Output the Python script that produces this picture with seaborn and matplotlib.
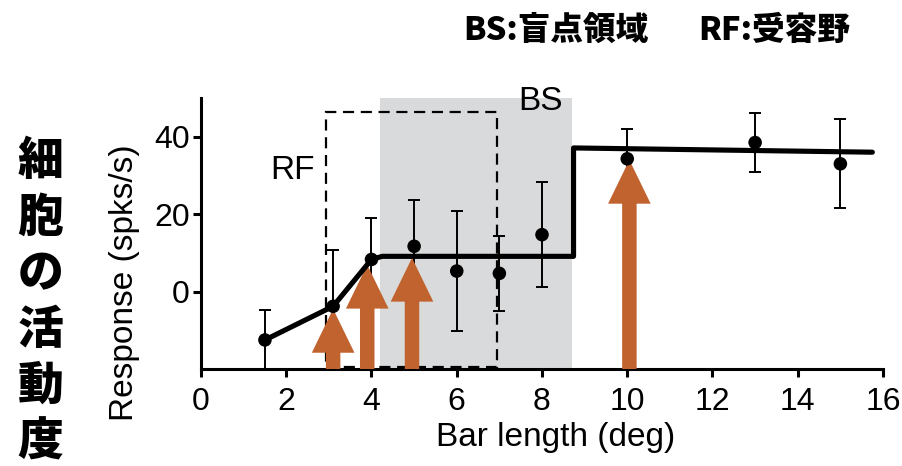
import matplotlib
matplotlib.use("Agg")
import matplotlib.pyplot as plt
import seaborn as sns
from matplotlib.patches import Rectangle, FancyArrow

# ---- data ----
bar_length = [1.5, 3.1, 4.0, 5.0, 6.0, 7.0, 8.0, 10.0, 13.0, 15.0]
response = [-12.5, -3.8, 8.3, 11.7, 5.3, 4.7, 14.7, 34.3, 38.5, 33.0]
response_err = [7.8, 14.6, 10.7, 12.0, 15.5, 9.6, 13.5, 7.7, 7.7, 11.5]

fit_x = [1.5, 3.1, 4.0, 4.25, 8.74, 8.74, 15.75]
fit_y = [-12.5, -3.8, 8.3, 9.1, 9.1, 37.1, 36.0]

bs_region = [4.2, 8.7]
rf_region = [2.93, 6.94]
rf_top = 46.4

arrow_x = [3.1, 3.9, 4.95, 10.05]
arrow_tip = [-4.5, 6.9, 8.7, 34.0]

x_ticks = [0, 2, 4, 6, 8, 10, 12, 14, 16]
y_ticks = [0, 20, 40]
x_limits = [0, 16]
y_limits = [-20, 50]

side_label = "細胞の活動度"
legend_bs = "BS:盲点領域"
legend_rf = "RF:受容野"

# ---- style ----
sns.set_style("ticks")
plt.rcParams['font.family'] = ['Liberation Sans', 'DejaVu Sans']
for key in ['text.color', 'axes.labelcolor', 'xtick.color', 'ytick.color', 'axes.edgecolor']:
    plt.rcParams[key] = 'black'
orange = '#c0632f'
W, H = 903, 466
cjk = ['Noto Sans CJK JP', 'DejaVu Sans']

fig = plt.figure(figsize=(W / 100, H / 100), dpi=100)
ax = fig.add_axes([201 / W, 1 - 369 / H, (883 - 201) / W, (369 - 98) / H])

ax.axvspan(bs_region[0], bs_region[1], color='#d9dadb', lw=0, zorder=0)
ax.add_patch(Rectangle((rf_region[0], y_limits[0] + 0.4), rf_region[1] - rf_region[0],
                       rf_top - y_limits[0] - 0.4, fill=False, ec='black', lw=1.6,
                       ls=(0, (5, 3)), zorder=1))

ax.errorbar(bar_length, response, yerr=response_err, fmt='none', ecolor='black',
            elinewidth=1.4, capsize=4.5, capthick=1.4, zorder=2)

for xa, ya in zip(arrow_x, arrow_tip):
    ax.add_patch(FancyArrow(xa, y_limits[0], 0, ya - y_limits[0], width=0.34,
                            head_width=1.0, head_length=11.3,
                            length_includes_head=True, color=orange, lw=0, zorder=3))

sns.lineplot(x=fit_x, y=fit_y, sort=False, estimator=None, color='black', lw=3.7,
             ax=ax, zorder=5)
sns.scatterplot(x=bar_length, y=response, color='black', s=95, edgecolor='none',
                zorder=6, ax=ax)

ax.text(2.14, 31.3, "RF", fontsize=24, ha='center', va='center')
ax.text(7.96, 49.2, "BS", fontsize=24, ha='center', va='center')

ax.set_xlim(*x_limits)
ax.set_ylim(*y_limits)
ax.set_xticks(x_ticks)
ax.set_yticks(y_ticks)
ax.tick_params(axis='both', length=6, width=2.2, labelsize=23, color='black',
               labelcolor='black')
ax.tick_params(axis='x', pad=7)
ax.tick_params(axis='y', pad=2)
for s in ['left', 'bottom']:
    ax.spines[s].set_linewidth(2.2)
    ax.spines[s].set_color('black')
sns.despine(ax=ax)

ax.set_xlabel("Bar length (deg)", fontsize=24)
ax.set_ylabel("Response (spks/s)", fontsize=24)
ax.xaxis.set_label_coords(0.52, -0.195)
ax.yaxis.set_label_coords(-0.089, 0.32)

for i, ch in enumerate(side_label):
    fig.text(40.5 / W, 1 - (162 + i * 56) / H, ch, fontsize=33, fontweight='heavy',
             family=cjk, ha='center', va='center')

fig.text(463 / W, 1 - 30 / H, legend_bs, fontsize=23.5, fontweight='heavy',
         family=cjk, ha='left', va='center')
fig.text(698 / W, 1 - 30 / H, legend_rf, fontsize=23.5, fontweight='heavy',
         family=cjk, ha='left', va='center')

fig.savefig("out.png", dpi=100)
